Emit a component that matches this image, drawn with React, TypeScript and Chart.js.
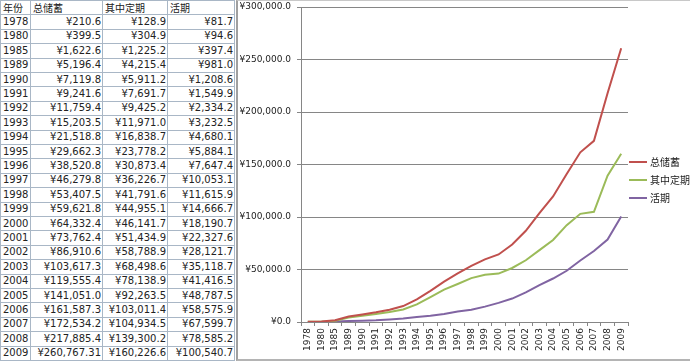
import React, { useEffect, useRef } from "react";
import { Chart, registerables } from "chart.js";

Chart.register(...registerables);

const years = [
  "1978", "1980", "1985", "1989", "1990", "1991", "1992", "1993", "1994", "1995", "1996", "1997",
  "1998", "1999", "2000", "2001", "2002", "2003", "2004", "2005", "2006", "2007", "2008", "2009",
];
const totalSavings = [
  210.6, 399.5, 1622.6, 5196.4, 7119.8, 9241.6, 11759.4, 15203.5, 21518.8, 29662.3, 38520.8, 46279.8,
  53407.5, 59621.8, 64332.4, 73762.4, 86910.6, 103617.3, 119555.4, 141051.0, 161587.3, 172534.2, 217885.4, 260767.31,
];
const fixedDeposits = [
  128.9, 304.9, 1225.2, 4215.4, 5911.2, 7691.7, 9425.2, 11971.0, 16838.7, 23778.2, 30873.4, 36226.7,
  41791.6, 44955.1, 46141.7, 51434.9, 58788.9, 68498.6, 78138.9, 92263.5, 103011.4, 104934.5, 139300.2, 160226.6,
];
const demandDeposits = [
  81.7, 94.6, 397.4, 981.0, 1208.6, 1549.9, 2334.2, 3232.5, 4680.1, 5884.1, 7647.4, 10053.1,
  11615.9, 14666.7, 18190.7, 22327.6, 28121.7, 35118.7, 41416.5, 48787.5, 58575.9, 67599.7, 78585.2, 100540.7,
];
const seriesNames = ["总储蓄", "其中定期", "活期"];
const headerLabels = ["年份", "总储蓄", "其中定期", "活期"];
const seriesColors = ["#C0504D", "#9BBB59", "#8064A2"];
const yMin = 0;
const yMax = 300000;
const yStep = 50000;

const FONT = "'DejaVu Sans', 'Noto Sans CJK SC', sans-serif";
const CJK_FONT = "'Noto Sans CJK SC', 'DejaVu Sans', sans-serif";

const fmtMoney = (v: number) =>
  "¥" + v.toLocaleString("en-US", { minimumFractionDigits: 1, maximumFractionDigits: 2 });

const legendPlugin = {
  id: "sideLegend",
  afterDraw(chart: any) {
    const ctx = chart.ctx;
    const area = chart.chartArea;
    ctx.save();
    chart.data.datasets.forEach((ds: any, i: number) => {
      const y = area.top + 155 + i * 18;
      const x0 = area.right + 1;
      ctx.strokeStyle = ds.borderColor;
      ctx.lineWidth = 2;
      ctx.beginPath();
      ctx.moveTo(x0, y);
      ctx.lineTo(x0 + 18, y);
      ctx.stroke();
      ctx.fillStyle = "#222";
      ctx.font = `10px ${CJK_FONT}`;
      ctx.textBaseline = "middle";
      ctx.textAlign = "left";
      ctx.fillText(ds.label, x0 + 21, y);
    });
    ctx.restore();
  },
};

function ChartPanel() {
  const ref = useRef<HTMLCanvasElement | null>(null);
  useEffect(() => {
    if (!ref.current) return;
    const values = [totalSavings, fixedDeposits, demandDeposits];
    const chart = new Chart(ref.current, {
      type: "line",
      data: {
        labels: years,
        datasets: seriesNames.map((name, i) => ({
          label: name,
          data: values[i],
          borderColor: seriesColors[i],
          backgroundColor: seriesColors[i],
          borderWidth: 2,
          pointRadius: 0,
          tension: 0,
          fill: false,
        })),
      },
      options: {
        animation: false,
        responsive: false,
        maintainAspectRatio: false,
        layout: { padding: { top: 6, right: 62, left: 0, bottom: 0 } },
        plugins: { legend: { display: false }, tooltip: { enabled: false } },
        scales: {
          x: {
            type: "category",
            offset: true,
            grid: {
              display: true,
              drawOnChartArea: false,
              drawTicks: true,
              tickLength: 4,
              offset: true,
              color: "#868686",
            },
            border: { color: "#868686" },
            ticks: {
              autoSkip: false,
              maxRotation: 90,
              minRotation: 90,
              padding: 2,
              font: { size: 9, family: FONT },
              color: "#222",
            },
            afterFit: (s: any) => {
              s.height = 37;
              s.paddingLeft = 0;
              s.paddingRight = 0;
            },
          },
          y: {
            min: yMin,
            max: yMax,
            ticks: {
              stepSize: yStep,
              padding: 6,
              font: { size: 9, family: FONT },
              color: "#222",
              callback: (v: any) => fmtMoney(Number(v)).replace(/(\.\d)\d?$/, "$1"),
            },
            grid: { color: "#868686", tickLength: 4 },
            border: { color: "#868686" },
            afterFit: (s: any) => {
              s.width = 63;
              s.paddingTop = 0;
              s.paddingBottom = 0;
            },
          },
        },
      },
      plugins: [legendPlugin],
    } as any);
    return () => chart.destroy();
  }, []);
  return <canvas ref={ref} width={452} height={358} style={{ display: "block", width: 452, height: 358 }} />;
}

function DataTable() {
  const rows: string[][] = [headerLabels];
  years.forEach((y, i) => {
    rows.push([y, fmtMoney(totalSavings[i]), fmtMoney(fixedDeposits[i]), fmtMoney(demandDeposits[i])]);
  });
  return (
    <div
      style={{
        position: "absolute",
        left: 0,
        top: 0,
        width: 235,
        height: 361,
        boxSizing: "border-box",
        padding: 1,
        background: "#A9B7C6",
        display: "grid",
        gridTemplateColumns: "29px 71px 64px 66px",
        gridTemplateRows: "repeat(25, 1fr)",
        gap: 1,
      }}
    >
      {rows.map((r, ri) =>
        r.map((c, ci) => (
          <div
            key={ri + "-" + ci}
            style={{
              background: "#fff",
              display: "flex",
              alignItems: "center",
              justifyContent: ri === 0 || ci === 0 ? "flex-start" : "flex-end",
              padding: ci === 0 ? "0 0 0 2px" : "0 1px 0 2px",
              fontFamily: ri === 0 ? CJK_FONT : FONT,
              fontSize: 10,
              color: "#222",
              whiteSpace: "nowrap",
              overflow: "hidden",
              lineHeight: "12px",
            }}
          >
            {c}
          </div>
        ))
      )}
    </div>
  );
}

export default function App() {
  return (
    <div style={{ position: "absolute", left: 0, top: 0, width: 690, height: 361, background: "#fff", overflow: "hidden" }}>
      <DataTable />
      <div
        style={{
          position: "absolute",
          left: 236,
          top: 0,
          width: 454,
          height: 361,
          boxSizing: "border-box",
          borderLeft: "2px solid #A0A0A0",
          borderTop: "1px solid #C8C8C8",
          borderBottom: "2px solid #B4B4B4",
          background: "#fff",
        }}
      >
        <ChartPanel />
      </div>
    </div>
  );
}
